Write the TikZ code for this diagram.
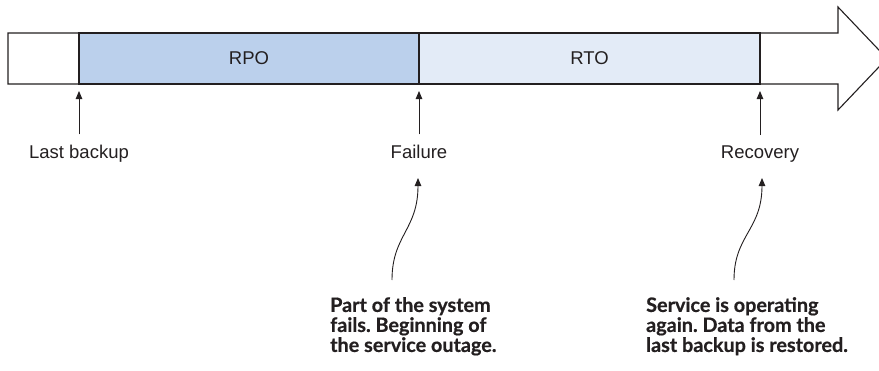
\documentclass[tikz,border=0pt]{standalone}
\usepackage{fontspec}
\setmainfont{Liberation Sans}
\newfontfamily\notefont[BoldFeatures={FakeBold=0.6}]{Lato}
\usetikzlibrary{arrows.meta}
\definecolor{rpofill}{HTML}{BBD0EC}
\definecolor{rtofill}{HTML}{E3EBF7}
\definecolor{ink}{HTML}{231F20}
\frenchspacing
\begin{document}
\begin{tikzpicture}[x=1pt,y=-1pt,
  seg/.style={draw=ink,line width=1.1pt,minimum height=51pt,inner sep=0pt,font=\fontsize{18.5}{21}\selectfont,text=ink},
  lbl/.style={inner sep=0pt,font=\fontsize{18.5}{21}\selectfont,text=ink,anchor=base},
  note/.style={inner sep=0pt,anchor=north west,align=left,font=\notefont\bfseries\fontsize{19.8}{20}\selectfont,text=ink},
  tick/.style={draw=ink,line width=0.9pt,-{Triangle[length=8pt,width=6.5pt]}},
]
\useasboundingbox (0,0) rectangle (879,370);
\begin{scope}
\clip (0,0) rectangle (879,370);
\draw[ink,line width=1.1pt,fill=white,line join=miter] (8,33) -- (838,33) -- (838,7) -- (887,58.5) -- (838,110) -- (838,84) -- (8,84) -- cycle;
\end{scope}
\node[seg,fill=rpofill,minimum width=340pt] (rpo) at (249,58.5) {RPO};
\node[seg,fill=rtofill,minimum width=341pt] (rto) at (589.5,58.5) {RTO};
\coordinate (b1) at (79,84);
\coordinate (b2) at (419,84);
\coordinate (b3) at (760,84);
\node[lbl] (lb) at (79,158) {Last backup};
\node[lbl] (fl) at (419,158) {Failure};
\node[lbl] (rc) at (760,158) {Recovery};
\draw[tick,shorten >=7pt] ([yshift=10pt]lb.north) -- (b1);
\draw[tick,shorten >=7pt] ([yshift=10pt]fl.north) -- (b2);
\draw[tick,shorten >=7pt] ([yshift=10pt]rc.north) -- (b3);
\node[note] (n1) at (330,297) {Part of the system\\fails. Beginning of\\the service outage.};
\node[note] (n2) at (646,297) {Service is operating\\again. Data from the\\last backup is restored.};
\coordinate (c1) at (392,280);
\coordinate (c2) at (734,280);
\coordinate (f1) at (418,178);
\coordinate (f2) at (762,178);
\draw[tick] (c1) .. controls (392,235) and (418,230) .. (f1);
\draw[tick] (c2) .. controls (734,235) and (762,230) .. (f2);
\end{tikzpicture}
\end{document}
